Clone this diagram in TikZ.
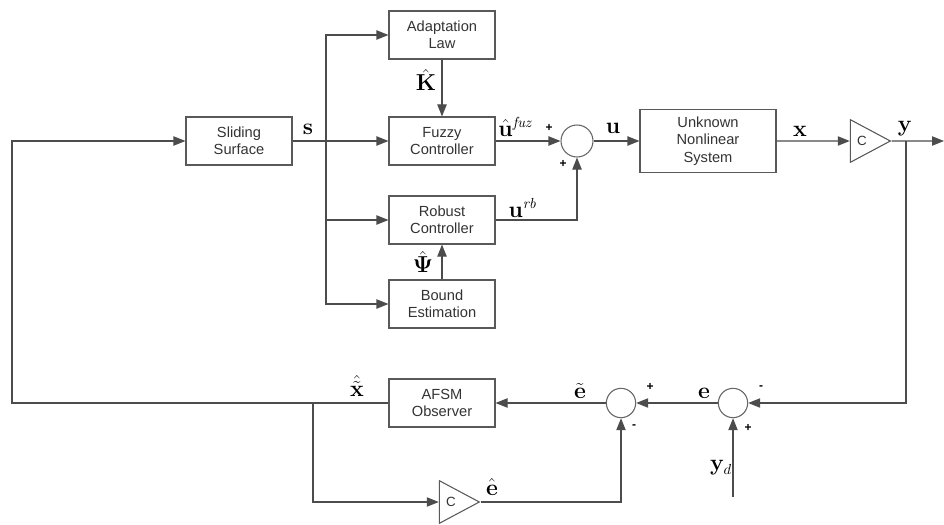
\documentclass[tikz,border=0pt]{standalone}
\usepackage{amsmath}
\usepackage{amssymb}
\usepackage{bm}
\usepackage[no-math]{fontspec}
\setmainfont{Liberation Sans}
\usepackage{tikz}
\usetikzlibrary{arrows.meta,shapes.geometric}

\begin{document}
\begin{tikzpicture}[x=0.75pt,y=-0.75pt]
\tikzstyle{every node}+=[inner sep=0pt]
\tikzstyle{blk}=[draw=black!65, line width=0.8pt, minimum width=79.5pt, minimum height=36pt, align=center, text=black!80, font=\fontsize{11}{13}\selectfont]
\tikzstyle{sumc}=[draw=black!60, line width=0.8pt, circle, minimum size=24pt]
\tikzstyle{sums}=[draw=black!60, line width=0.8pt, circle, minimum size=22pt]
\tikzstyle{gain}=[draw=black!65, line width=0.8pt, isosceles triangle, isosceles triangle stretches, minimum width=32pt, minimum height=30pt, text=black!80, font=\fontsize{10}{12}\selectfont]
\tikzstyle{wire}=[draw=black!70, line width=0.8pt]
\tikzstyle{arr}=[wire, -{Triangle[length=9pt,width=7pt]}]
\tikzstyle{lbl}=[font=\fontsize{16}{18}\selectfont]
\tikzstyle{sgn}=[font=\fontsize{9}{10}\selectfont\bfseries]
\useasboundingbox (0,0) rectangle (944,524);
% blocks
\draw (239,141) node [blk] (slide) {Sliding\\Surface};
\draw (442,35) node [blk] (adapt) {Adaptation\\Law};
\draw (442,141) node [blk] (fuzzy) {Fuzzy\\Controller};
\draw (442,220) node [blk] (robust) {Robust\\Controller};
\draw (442,304) node [blk] (bound) {Bound\\Estimation};
\draw (708,141) node [blk, minimum width=102pt, minimum height=47pt] (plant) {Unknown\\Nonlinear\\System};
\draw (442,403) node [blk] (obs) {AFSM\\Observer};
\draw (577,141) node [sumc] (sum1) {};
\draw (621,403) node [sums] (sum2) {};
\draw (733,403) node [sums] (sum3) {};
\draw (862,141) node [gain] (gainy) {C};
\draw (451,502) node [gain] (gaine) {C};
% branch points
\coordinate (bus) at (326,141);
\coordinate (ybr) at (906,141);
\coordinate (yout) at (944,141);
\coordinate (fbl) at (12,403);
\coordinate (xbr) at (313,403);
\coordinate (ydin) at (733,497);
% forward path
\draw [arr] (slide.east) -- (fuzzy.west);
\draw [arr] (bus) |- (adapt.west);
\draw [arr] (bus) |- (robust.west);
\draw [arr] (bus) |- (bound.west);
\draw [arr] (adapt.south) -- (fuzzy.north);
\draw [arr] (bound.north) -- (robust.south);
\draw [arr] (fuzzy.east) -- (sum1.west);
\draw [arr] (robust.east) -| (sum1.south);
\draw [arr] (sum1.east) -- (plant.west);
\draw [arr] (plant.east) -- (gainy.west);
\draw [arr] (gainy.east) -- (yout);
% feedback path
\draw [arr] (ybr) |- (sum3.east);
\draw [arr] (ydin) -- (sum3.south);
\draw [arr] (sum3.west) -- (sum2.east);
\draw [arr] (sum2.west) -- (obs.east);
\draw [arr] (obs.west) -- (fbl) |- (slide.west);
\draw [arr] (xbr) |- (gaine.west);
\draw [arr] (gaine.east) -| (sum2.south);
% signal labels
\draw (308,129) node [lbl] (ls) {$\mathbf{s}$};
\draw (426,80) node [lbl] (lK) {$\hat{\mathbf{K}}$};
\draw (516,127) node [lbl] (lufuz) {$\hat{\mathbf{u}}^{\mathit{fuz}}$};
\draw (523,208) node [lbl] (lurb) {$\mathbf{u}^{\mathit{rb}}$};
\draw (423,262) node [lbl] (lpsi) {$\hat{\bm{\Psi}}$};
\draw (613,128) node [lbl] (lu) {$\mathbf{u}$};
\draw (800,131) node [lbl] (lx) {$\mathbf{x}$};
\draw (905,129) node [lbl] (ly) {$\mathbf{y}$};
\draw (357,386) node [lbl] (lxh) {$\hat{\tilde{\mathbf{x}}}$};
\draw (580,391) node [lbl] (let) {$\tilde{\mathbf{e}}$};
\draw (704,393) node [lbl] (le) {$\mathbf{e}$};
\draw (492,487) node [lbl] (leh) {$\hat{\mathbf{e}}$};
\draw (721,468) node [lbl] (lyd) {$\mathbf{y}_{d}$};
% signs
\draw (549,128) node [sgn] (p1) {+};
\draw (563,164) node [sgn] (p2) {+};
\draw (650,387) node [sgn] (p3) {+};
\draw (634,427) node [sgn] (m3) {-};
\draw (761,388) node [sgn] (m4) {-};
\draw (748,428) node [sgn] (p4) {+};
\end{tikzpicture}
\end{document}
